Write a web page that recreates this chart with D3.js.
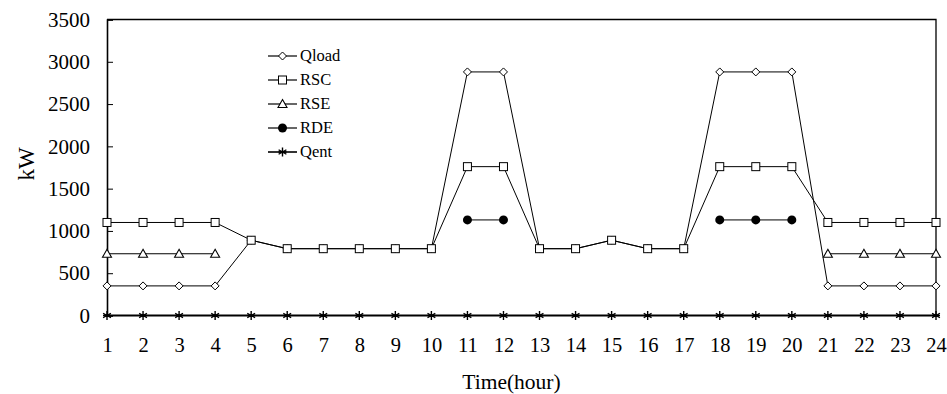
<!DOCTYPE html>
<html><head><meta charset="utf-8">
<script src="https://cdn.jsdelivr.net/npm/d3@7"></script>
<style>
body{margin:0;background:#fff;}
</style></head>
<body><svg id="chart" width="947" height="394"></svg>
<script>
const hours = [1,2,3,4,5,6,7,8,9,10,11,12,13,14,15,16,17,18,19,20,21,22,23,24];
const qload = [350,350,350,350,890,790,790,790,790,790,2880,2880,790,790,890,790,790,2880,2880,2880,350,350,350,350];
const rsc   = [1100,1100,1100,1100,890,790,790,790,790,790,1760,1760,790,790,890,790,790,1760,1760,1760,1100,1100,1100,1100];
const rse   = [730,730,730,730,null,null,null,null,null,null,null,null,null,null,null,null,null,null,null,null,730,730,730,730];
const rde   = [null,null,null,null,null,null,null,null,null,null,1130,1130,null,null,null,null,null,1130,1130,1130,null,null,null,null];
const qent  = [0,0,0,0,0,0,0,0,0,0,0,0,0,0,0,0,0,0,0,0,0,0,0,0];
const yTicks = [0,500,1000,1500,2000,2500,3000,3500];
const seriesNames = ["Qload","RSC","RSE","RDE","Qent"];

const FONT = "'Liberation Serif'";
const svg = d3.select("#chart");
const L = 107, R = 936, T = 19.5, B = 315.5;
const x = d3.scalePoint().domain(hours).range([L, R]).padding(0);
const y = d3.scaleLinear().domain([0, 3500]).range([B, T]);

// frame
svg.append("path").attr("d", `M${L},${T}H${R}V${B}`).attr("fill","none").attr("stroke","#000").attr("stroke-width",1.3);
svg.append("line").attr("x1",L).attr("x2",R).attr("y1",B).attr("y2",B).attr("stroke","#000").attr("stroke-width",1);

// y axis
const ya = svg.append("g").attr("transform",`translate(${L},0)`)
  .call(d3.axisLeft(y).tickValues(yTicks).tickSize(-6).tickPadding(17).tickFormat(d3.format("d")));
ya.select(".domain").attr("stroke-width",1.6);
ya.selectAll("text").style("font-family",FONT).attr("font-size",21).attr("fill","#000");

// x axis
const xa = svg.append("g").attr("transform",`translate(0,${B})`)
  .call(d3.axisBottom(x).tickSize(0).tickPadding(22));
xa.select(".domain").remove();
xa.selectAll("text").style("font-family",FONT).attr("font-size",20.5).attr("fill","#000");

svg.append("text").attr("x",(L+R)/2 - 10).attr("y",389).attr("text-anchor","middle")
  .style("font-family",FONT).attr("font-size",21.5).text("Time(hour)");
svg.append("text").attr("transform","translate(34,164) rotate(-90)").attr("text-anchor","middle")
  .style("font-family",FONT).attr("font-size",23).text("kW");

// markers
function marker(g, type){
  if(type==="diamond"){
    g.append("path").attr("d","M0,-4L4,0L0,4L-4,0Z").attr("fill","#fff").attr("stroke","#000").attr("stroke-width",1);
  } else if(type==="square"){
    g.append("rect").attr("x",-4).attr("y",-4).attr("width",8).attr("height",8).attr("fill","#fff").attr("stroke","#000").attr("stroke-width",1);
  } else if(type==="triangle"){
    g.append("path").attr("d","M0,-4.5L4.5,3.5L-4.5,3.5Z").attr("fill","#fff").attr("stroke","#000").attr("stroke-width",1.1);
  } else if(type==="circle"){
    g.append("circle").attr("r",4.5).attr("fill","#000");
  } else if(type==="star"){
    g.append("path").attr("d","M0,-4.5V4.5M-3.9,-2.25L3.9,2.25M-3.9,2.25L3.9,-2.25M-4,0H4").attr("stroke","#000").attr("stroke-width",1.4).attr("fill","none");
  }
}

const series = [
  {name:"Qent", vals:qent, m:"star", w:2.2},
  {name:"RDE", vals:rde, m:"circle", w:1},
  {name:"RSE", vals:rse, m:"triangle", w:1},
  {name:"Qload", vals:qload, m:"diamond", w:1},
  {name:"RSC", vals:rsc, m:"square", w:1}
];
const line = d3.line().defined(d=>d.v!==null).x(d=>x(d.h)).y(d=>y(d.v));
series.forEach(s=>{
  const pts = hours.map((h,i)=>({h, v:s.vals[i]}));
  svg.append("path").datum(pts).attr("d",line).attr("fill","none").attr("stroke","#000").attr("stroke-width",s.w);
});
series.forEach(s=>{
  hours.forEach((h,i)=>{
    if(s.vals[i]===null) return;
    marker(svg.append("g").attr("transform",`translate(${x(h)},${y(s.vals[i])})`), s.m);
  });
});

// legend
const legMark = {Qload:"diamond",RSC:"square",RSE:"triangle",RDE:"circle",Qent:"star"};
seriesNames.forEach((n,i)=>{
  const ly = 56 + i*24;
  svg.append("line").attr("x1",268).attr("x2",297).attr("y1",ly).attr("y2",ly).attr("stroke","#000").attr("stroke-width",n==="Qent"?1.6:1.2);
  marker(svg.append("g").attr("transform",`translate(282.5,${ly})`), legMark[n]);
  svg.append("text").attr("x",300).attr("y",ly).attr("dy","0.33em").style("font-family",FONT).attr("font-size",16.5).text(n);
});
</script></body></html>
